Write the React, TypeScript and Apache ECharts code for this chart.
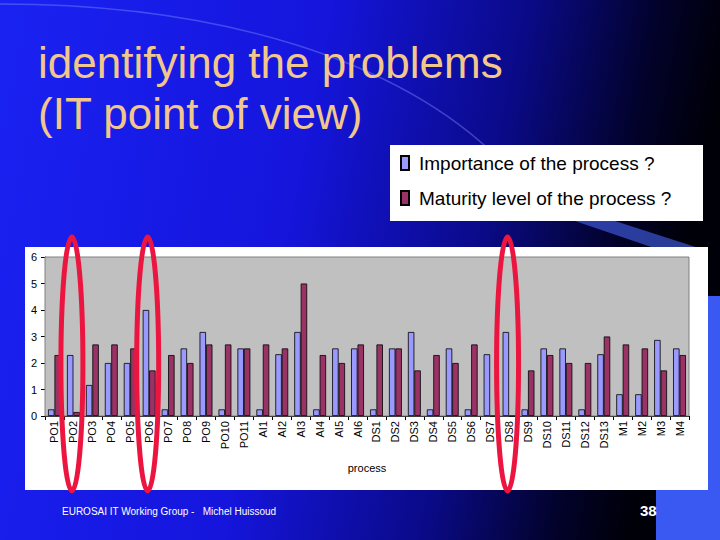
import React, { useEffect, useRef } from 'react';
import * as echarts from 'echarts';

const processes = [
    'PO1', 'PO2', 'PO3', 'PO4', 'PO5', 'PO6', 'PO7', 'PO8', 'PO9', 'PO10', 'PO11',
    'AI1', 'AI2', 'AI3', 'AI4', 'AI5', 'AI6',
    'DS1', 'DS2', 'DS3', 'DS4', 'DS5', 'DS6', 'DS7', 'DS8', 'DS9', 'DS10', 'DS11', 'DS12', 'DS13',
    'M1', 'M2', 'M3', 'M4',
];

const importance = [
    0.25, 2.3, 1.17, 2.0, 2.0, 4.0, 0.25, 2.55, 3.17, 0.25, 2.55,
    0.25, 2.33, 3.17, 0.25, 2.55, 2.55,
    0.25, 2.55, 3.17, 0.25, 2.55, 0.25, 2.33, 3.17, 0.25, 2.55, 2.55, 0.25, 2.33,
    0.82, 0.82, 2.87, 2.55,
];

const maturity = [
    2.3, 0.15, 2.7, 2.7, 2.55, 1.72, 2.3, 2.0, 2.7, 2.7, 2.55,
    2.7, 2.55, 5.0, 2.3, 2.0, 2.7,
    2.7, 2.55, 1.72, 2.3, 2.0, 2.7, 0, 0, 1.72, 2.3, 2.0, 2.0, 3.0,
    2.7, 2.55, 1.72, 2.3,
];

const circled = ['PO2', 'PO6', 'DS8'];

const seriesNames = ['Importance of the process ?', 'Maturity level of the process ?'];

const FONT = 'Liberation Sans, Arial, sans-serif';

const App: React.FC = () => {
    const chartRef = useRef<HTMLDivElement>(null);

    useEffect(() => {
        document.body.style.margin = '0';
        const chart = echarts.init(chartRef.current!, null, { renderer: 'svg' });

        const options: echarts.EChartsOption = {
            animation: false,
            backgroundColor: {
                type: 'linear',
                x: 0, y: 0, x2: 1, y2: 0.15,
                colorStops: [
                    { offset: 0, color: '#1a22f2' },
                    { offset: 0.45, color: '#1515dc' },
                    { offset: 0.72, color: '#0a0a88' },
                    { offset: 0.9, color: '#02022a' },
                    { offset: 1, color: '#000008' },
                ],
            } as any,
            textStyle: { fontFamily: FONT },
            grid: {
                left: 45,
                right: 31,
                top: 257,
                bottom: 124,
                show: true,
                backgroundColor: '#c0c0c0',
                borderColor: '#808080',
                borderWidth: 1,
                z: 1,
            },
            legend: {
                orient: 'vertical',
                left: 400,
                top: 152,
                itemWidth: 8,
                itemHeight: 14,
                itemGap: 13,
                padding: 0,
                icon: 'rect',
                textStyle: {
                    fontFamily: FONT,
                    fontSize: 19,
                    color: '#000',
                    lineHeight: 22,
                    padding: [0, 0, 0, 5],
                },
                data: seriesNames,
            },
            xAxis: {
                type: 'category',
                data: processes,
                name: 'process',
                nameLocation: 'middle',
                nameGap: 46,
                nameTextStyle: { fontFamily: FONT, fontSize: 11, color: '#000' },
                axisLine: { lineStyle: { color: '#000', width: 1 } },
                axisTick: { show: true, length: 4, lineStyle: { color: '#000' } },
                axisLabel: {
                    rotate: 90,
                    interval: 0,
                    fontFamily: FONT,
                    fontSize: 11,
                    color: '#000',
                    margin: 5,
                },
            },
            yAxis: {
                type: 'value',
                min: 0,
                max: 6,
                interval: 1,
                axisLine: { show: true, lineStyle: { color: '#000', width: 1 } },
                axisTick: { show: true, length: 4, lineStyle: { color: '#000' } },
                axisLabel: { fontFamily: FONT, fontSize: 11, color: '#000', margin: 8 },
                splitLine: { lineStyle: { color: '#000', width: 1 } },
            },
            series: [
                {
                    name: seriesNames[0],
                    type: 'bar',
                    data: importance,
                    barGap: '0%',
                    barCategoryGap: '32%',
                    itemStyle: { color: '#9999ff', borderColor: '#000', borderWidth: 0.8 },
                },
                {
                    name: seriesNames[1],
                    type: 'bar',
                    data: maturity,
                    itemStyle: { color: '#993366', borderColor: '#000', borderWidth: 0.8 },
                },
            ],
        };
        chart.setOption(options);

        // red ellipses placed on the category positions
        const ellipses = circled.map(cat => {
            const cx = chart.convertToPixel({ xAxisIndex: 0 }, cat) as number;
            return {
                type: 'ellipse',
                z: 100,
                shape: { cx: cx - 1.5, cy: 364, rx: 11, ry: 127 },
                style: { fill: 'none', stroke: '#ec1540', lineWidth: 5 },
            };
        });

        chart.setOption({
            graphic: [
                {
                    type: 'bezierCurve',
                    z: -20,
                    shape: { x1: 0, y1: 4, cpx1: 220, cpy1: 4, cpx2: 400, cpy2: 60, x2: 500, y2: 160 },
                    style: { stroke: 'rgba(130,150,255,0.4)', lineWidth: 1.5, fill: 'none' },
                },
                {
                    type: 'polygon',
                    z: -20,
                    shape: { points: [[575, 221], [615, 221], [705, 250], [660, 250]] },
                    style: { fill: 'rgba(70,100,240,0.6)' },
                },
                {
                    type: 'rect',
                    z: -20,
                    shape: { x: 656, y: 296, width: 64, height: 244 },
                    style: { fill: '#3a58f2' },
                },
                {
                    type: 'text',
                    z: -5,
                    left: 38,
                    top: 37,
                    style: {
                        text: 'identifying the problems\n(IT point of view)',
                        font: `44px ${FONT}`,
                        lineHeight: 51,
                        fill: '#f2c78c',
                    },
                },
                {
                    type: 'rect',
                    z: -10,
                    shape: { x: 390, y: 145, width: 313, height: 76 },
                    style: { fill: '#ffffff' },
                },
                {
                    type: 'rect',
                    z: -10,
                    shape: { x: 25, y: 247, width: 683, height: 243 },
                    style: { fill: '#ffffff' },
                },
                {
                    type: 'text',
                    z: -5,
                    left: 62,
                    top: 506,
                    style: {
                        text: 'EUROSAI IT Working Group -   Michel Huissoud',
                        font: `10px ${FONT}`,
                        fill: '#ffffff',
                    },
                },
                {
                    type: 'text',
                    z: -5,
                    left: 640,
                    top: 503,
                    style: {
                        text: '38',
                        font: `bold 15px ${FONT}`,
                        fill: '#ffffff',
                    },
                },
                ...ellipses,
            ],
        } as any);

        return () => {
            chart.dispose();
        };
    }, []);

    return <div ref={chartRef} style={{ width: 720, height: 540 }} />;
};

export default App;
